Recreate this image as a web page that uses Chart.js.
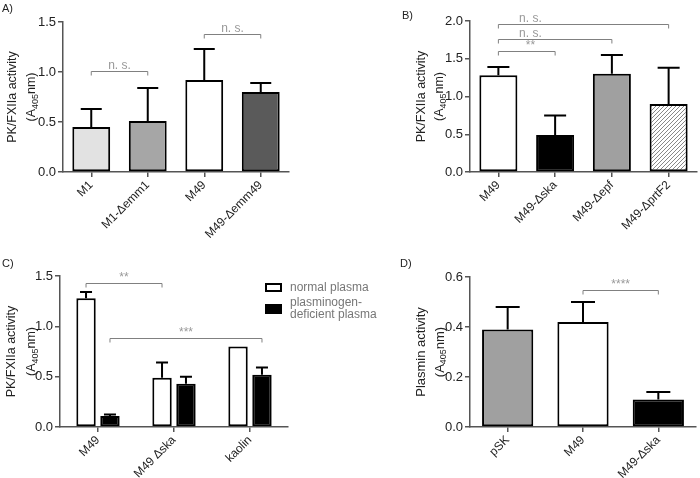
<!DOCTYPE html>
<html>
<head>
<meta charset="utf-8">
<script src="https://cdn.jsdelivr.net/npm/chart.js@4.4.1/dist/chart.umd.min.js"></script>
<style>
  body { margin: 0; background: #fff; font-family: "Liberation Sans", Arial, sans-serif; }
  #page { position: relative; width: 700px; height: 478px; overflow: hidden; }
  .panel { position: absolute; width: 350px; height: 239px; }
  .tag { position: absolute; font-size: 11px; color: #222; }
  .legend { position: absolute; left: 265px; top: 281px; font-size: 12px; line-height: 12px; color: #777; }
  .legend .row { position: relative; padding-left: 25px; margin-bottom: 3px; }
  .legend .box { position: absolute; left: 0; width: 17px; box-sizing: border-box; border: 2px solid #000; }
</style>
</head>
<body>
<div id="page">
  <div class="panel" style="left:0;top:0"><canvas id="chartA" width="350" height="239"></canvas></div>
  <div class="panel" style="left:350px;top:0"><canvas id="chartB" width="350" height="239"></canvas></div>
  <div class="panel" style="left:0;top:239px"><canvas id="chartC" width="350" height="239"></canvas></div>
  <div class="panel" style="left:350px;top:239px"><canvas id="chartD" width="350" height="239"></canvas></div>
  <div class="tag" style="left:2px;top:2px">A)</div>
  <div class="tag" style="left:402px;top:9px">B)</div>
  <div class="tag" style="left:2px;top:257px">C)</div>
  <div class="tag" style="left:400px;top:257px">D)</div>
  <div class="legend" id="legendC"></div>
</div>
<script>
// A) PK/FXIIa activity, M1 / M49 and emm mutants
const labelsA = ["M1", "M1-Δemm1", "M49", "M49-Δemm49"];
const valuesA = [0.45, 0.51, 0.92, 0.80];
const errorsA = [0.18, 0.33, 0.31, 0.09];
const ticksA = [0, 0.5, 1.0, 1.5];
const bracketsA = [
  { from: [0, 0], to: [0, 1], y: 1.01, text: "n. s." },
  { from: [0, 2], to: [0, 3], y: 1.38, text: "n. s." }
];

// B) PK/FXIIa activity, M49 and protease mutants
const labelsB = ["M49", "M49-Δska", "M49-Δepf", "M49-ΔprtF2"];
const valuesB = [1.28, 0.49, 1.30, 0.90];
const errorsB = [0.11, 0.26, 0.25, 0.48];
const ticksB = [0, 0.5, 1.0, 1.5, 2.0];
const bracketsB = [
  { from: [0, 0], to: [0, 3], y: 1.96, text: "n. s." },
  { from: [0, 0], to: [0, 2], y: 1.76, text: "n. s." },
  { from: [0, 0], to: [0, 1], y: 1.60, text: "**" }
];

// C) normal vs plasminogen-deficient plasma
const labelsC = ["M49", "M49 Δska", "kaolin"];
const seriesC = ["normal plasma", "plasminogen-\ndeficient plasma"];
const normalC = [1.28, 0.49, 0.80];
const normalErrC = [0.06, 0.15, 0];
const deficientC = [0.11, 0.43, 0.52];
const deficientErrC = [0.015, 0.07, 0.07];
const ticksC = [0, 0.5, 1.0, 1.5];
const bracketsC = [
  { from: [0, 0], to: [0, 1], y: 1.43, text: "**" },
  { from: [1, 0], to: [1, 2], y: 0.885, text: "***" }
];

// D) Plasmin activity
const labelsD = ["pSK", "M49", "M49-Δska"];
const valuesD = [0.39, 0.42, 0.11];
const errorsD = [0.09, 0.08, 0.03];
const ticksD = [0, 0.2, 0.4, 0.6];
const bracketsD = [
  { from: [0, 1], to: [0, 2], y: 0.546, text: "****" }
];

Chart.defaults.font.family = '"Liberation Sans", Arial, sans-serif';
Chart.defaults.font.size = 12;
Chart.defaults.color = "#222";

const hatch = (() => {
  const c = document.createElement("canvas");
  c.width = 4; c.height = 4;
  const g = c.getContext("2d");
  g.fillStyle = "#fff";
  g.fillRect(0, 0, 4, 4);
  g.strokeStyle = "#888";
  g.lineWidth = 1;
  g.beginPath();
  g.moveTo(0, 4); g.lineTo(4, 0);
  g.moveTo(-1, 1); g.lineTo(1, -1);
  g.moveTo(3, 5); g.lineTo(5, 3);
  g.stroke();
  return g.createPattern(c, "repeat");
})();

function errorBars(cap) {
  return {
    id: "errorBars",
    afterDatasetsDraw(chart) {
      const ctx = chart.ctx, y = chart.scales.y;
      chart.data.datasets.forEach((ds, i) => {
        if (!ds.errors) return;
        chart.getDatasetMeta(i).data.forEach((bar, j) => {
          const e = ds.errors[j];
          if (!e) return;
          const top = y.getPixelForValue(ds.data[j] + e);
          ctx.save();
          ctx.strokeStyle = "#000";
          ctx.lineWidth = 2;
          ctx.beginPath();
          ctx.moveTo(bar.x, bar.y);
          ctx.lineTo(bar.x, top);
          ctx.moveTo(bar.x - cap / 2, top);
          ctx.lineTo(bar.x + cap / 2, top);
          ctx.stroke();
          ctx.restore();
        });
      });
    }
  };
}

function brackets(items, textOffset) {
  return {
    id: "brackets",
    afterDraw(chart) {
      const ctx = chart.ctx, y = chart.scales.y;
      items.forEach(b => {
        const x1 = chart.getDatasetMeta(b.from[0]).data[b.from[1]].x;
        const x2 = chart.getDatasetMeta(b.to[0]).data[b.to[1]].x;
        const py = Math.round(y.getPixelForValue(b.y)) + 0.5;
        ctx.save();
        ctx.strokeStyle = "#808080";
        ctx.lineWidth = 1;
        ctx.beginPath();
        ctx.moveTo(x1, py + 4);
        ctx.lineTo(x1, py);
        ctx.lineTo(x2, py);
        ctx.lineTo(x2, py + 4);
        ctx.stroke();
        ctx.fillStyle = "#999";
        ctx.font = '12px "Liberation Sans", Arial, sans-serif';
        ctx.textAlign = "center";
        ctx.textBaseline = "bottom";
        const tx = textOffset == null ? (x1 + x2) / 2 : x1 + textOffset;
        ctx.fillText(b.text, tx, py);
        ctx.restore();
      });
    }
  };
}

// rotated axis title; second line has A with subscript 405
function yTitle(first, x1, x2, size) {
  return {
    id: "yTitle",
    afterDraw(chart) {
      const ctx = chart.ctx, a = chart.chartArea;
      const cy = (a.top + a.bottom) / 2;
      const big = size + "px \"Liberation Sans\", Arial, sans-serif";
      const small = Math.round(size * 0.72) + "px \"Liberation Sans\", Arial, sans-serif";
      ctx.save();
      ctx.fillStyle = "#222";
      ctx.textBaseline = "middle";
      ctx.translate(x1, cy);
      ctx.rotate(-Math.PI / 2);
      ctx.font = big;
      ctx.textAlign = "center";
      ctx.fillText(first, 0, 0);
      ctx.restore();

      const parts = [["(A", big, 0], ["405", small, size * 0.3], ["nm)", big, 0]];
      let total = 0;
      parts.forEach(p => { ctx.font = p[1]; total += ctx.measureText(p[0]).width; });
      ctx.save();
      ctx.fillStyle = "#222";
      ctx.textBaseline = "middle";
      ctx.textAlign = "left";
      ctx.translate(x2, cy);
      ctx.rotate(-Math.PI / 2);
      let px = -total / 2;
      parts.forEach(p => {
        ctx.font = p[1];
        ctx.fillText(p[0], px, p[2]);
        px += ctx.measureText(p[0]).width;
      });
      ctx.restore();
    }
  };
}

// canvas box and wanted plot area, in canvas coordinates
function makeChart(id, labels, datasets, ticks, area, bar, plugins) {
  const W = 350, H = 239;
  return new Chart(document.getElementById(id), {
    type: "bar",
    data: { labels: labels, datasets: datasets },
    options: {
      responsive: false,
      animation: false,
      events: [],
      layout: { padding: { top: area.top, right: W - area.right, left: 0, bottom: 0 } },
      datasets: { bar: { barPercentage: bar[0], categoryPercentage: bar[1], borderWidth: 2, borderColor: "#000", borderSkipped: false } },
      plugins: { legend: { display: false }, tooltip: { enabled: false } },
      scales: {
        x: {
          grid: { display: true, drawOnChartArea: false, offset: false, tickLength: 5, color: "#555", lineWidth: 1.5 },
          border: { display: true, color: "#555", width: 1.5 },
          ticks: { minRotation: 45, maxRotation: 45, padding: 1, color: "#222", font: { size: 12 } },
          afterFit(s) { s.height = H - area.bottom; }
        },
        y: {
          min: 0,
          max: ticks[ticks.length - 1],
          grid: { display: true, drawOnChartArea: false, tickLength: 5, color: "#555", lineWidth: 1.5 },
          border: { display: true, color: "#555", width: 1.5 },
          ticks: { padding: 2, color: "#222", font: { size: 13 }, callback: v => v.toFixed(1) },
          afterBuildTicks(s) { s.ticks = ticks.map(v => ({ value: v })); },
          afterFit(s) { s.width = area.left; }
        }
      }
    },
    plugins: plugins
  });
}

makeChart("chartA", labelsA,
  [{ data: valuesA, errors: errorsA, backgroundColor: ["#e2e2e2", "#a6a6a6", "#ffffff", "#5a5a5a"] }],
  ticksA, { left: 63, top: 22, right: 289, bottom: 172 }, [0.67, 1],
  [errorBars(21), brackets(bracketsA), yTitle("PK/FXIIa activity", 13, 32, 12.5)]);

makeChart("chartB", labelsB,
  [{ data: valuesB, errors: errorsB, backgroundColor: ["#ffffff", "#000000", "#a0a0a0", hatch] }],
  ticksB, { left: 120, top: 21, right: 347, bottom: 172 }, [0.67, 1],
  [errorBars(22), brackets(bracketsB, 32), yTitle("PK/FXIIa activity", 72, 90, 12.5)]);

const dsC = [
  { label: seriesC[0], data: normalC, errors: normalErrC, backgroundColor: "#ffffff" },
  { label: seriesC[1], data: deficientC, errors: deficientErrC, backgroundColor: "#000000" }
];
makeChart("chartC", labelsC, dsC,
  ticksC, { left: 60, top: 37, right: 288, bottom: 188 }, [0.81, 0.63],
  [errorBars(12), brackets(bracketsC), yTitle("PK/FXIIa activity", 12, 32, 12.5)]);

makeChart("chartD", labelsD,
  [{ data: valuesD, errors: errorsD, backgroundColor: ["#a0a0a0", "#ffffff", "#000000"] }],
  ticksD, { left: 120, top: 38, right: 346, bottom: 188 }, [0.68, 1],
  [errorBars(24), brackets(bracketsD), yTitle("Plasmin activity", 71, 90, 13)]);

// legend for C, built from its datasets
const legend = document.getElementById("legendC");
dsC.forEach((ds, i) => {
  const row = document.createElement("div");
  row.className = "row";
  const box = document.createElement("span");
  box.className = "box";
  box.style.background = ds.backgroundColor;
  box.style.height = i === 0 ? "9px" : "10px";
  box.style.top = i === 0 ? "2px" : "8px";
  row.appendChild(box);
  ds.label.split("\n").forEach(t => {
    const line = document.createElement("div");
    line.textContent = t;
    row.appendChild(line);
  });
  legend.appendChild(row);
});
</script>
</body>
</html>
